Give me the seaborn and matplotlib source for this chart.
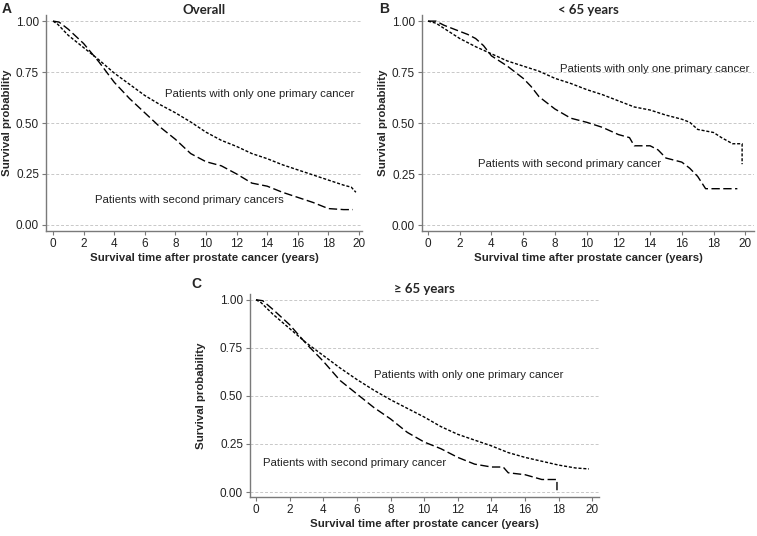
import matplotlib
matplotlib.use("Agg")
import matplotlib.pyplot as plt
import seaborn as sns
import pandas as pd

sns.set_theme(style="white")
plt.rcParams['font.family'] = ['Liberation Sans', 'DejaVu Sans']

# survival curves (years, probability)
a_one_t = [0, 0.3, 1, 2, 3, 4, 5, 6, 7, 8, 9, 10, 11, 12, 13, 14, 15, 16, 17, 18, 19, 19.5, 19.8]
a_one_s = [1.0, 0.985, 0.93, 0.87, 0.81, 0.745, 0.69, 0.635, 0.59, 0.55, 0.505, 0.455, 0.415, 0.385, 0.35, 0.325, 0.295, 0.27, 0.245, 0.22, 0.195, 0.185, 0.16]
a_sec_t = [0, 0.4, 1, 2, 3, 4, 5, 6, 7, 8, 9, 10, 11, 12, 13, 14, 15, 16, 17, 18, 19, 19.6]
a_sec_s = [1.0, 0.995, 0.96, 0.89, 0.80, 0.70, 0.62, 0.55, 0.48, 0.42, 0.35, 0.31, 0.29, 0.25, 0.205, 0.19, 0.16, 0.135, 0.11, 0.08, 0.075, 0.075]

b_one_t = [0, 0.5, 1, 2, 3, 4, 5, 6, 7, 8, 9, 10, 11, 12, 13, 14, 15, 16, 16.5, 17, 18, 18.5, 19.2, 19.8, 19.8]
b_one_s = [1.0, 0.99, 0.965, 0.915, 0.875, 0.84, 0.805, 0.78, 0.755, 0.72, 0.695, 0.665, 0.64, 0.61, 0.58, 0.565, 0.54, 0.52, 0.505, 0.47, 0.455, 0.43, 0.40, 0.40, 0.30]
b_sec_t = [0, 0.5, 1, 2, 2.5, 3, 3.5, 4, 5, 6, 6.5, 7, 8, 9, 10, 11, 12, 12.7, 13, 14, 14.5, 15, 16, 16.5, 17, 17.5, 19.5]
b_sec_s = [1.0, 1.0, 0.98, 0.95, 0.935, 0.915, 0.88, 0.83, 0.78, 0.72, 0.68, 0.63, 0.57, 0.525, 0.505, 0.48, 0.445, 0.43, 0.39, 0.39, 0.37, 0.33, 0.31, 0.28, 0.24, 0.18, 0.18]

c_one_t = [0, 0.3, 1, 2, 3, 4, 5, 6, 7, 8, 9, 10, 11, 12, 13, 14, 15, 16, 17, 18, 19, 19.8]
c_one_s = [1.0, 0.985, 0.925, 0.85, 0.775, 0.71, 0.645, 0.585, 0.53, 0.48, 0.435, 0.39, 0.34, 0.30, 0.27, 0.24, 0.205, 0.18, 0.16, 0.14, 0.125, 0.12]
c_sec_t = [0, 0.4, 1, 2, 3, 4, 5, 6, 7, 8, 9, 10, 11, 12, 13, 14, 14.7, 15, 16, 17, 17.9, 17.9]
c_sec_s = [1.0, 0.995, 0.95, 0.87, 0.77, 0.68, 0.58, 0.51, 0.44, 0.38, 0.31, 0.26, 0.225, 0.18, 0.145, 0.13, 0.13, 0.10, 0.09, 0.065, 0.065, 0.0]

panels = [
    ("A", "Overall", a_one_t, a_one_s, a_sec_t, a_sec_s,
     "Patients with second primary cancers"),
    ("B", "< 65 years", b_one_t, b_one_s, b_sec_t, b_sec_s,
     "Patients with second primary cancer"),
    ("C", "\u2265 65 years", c_one_t, c_one_s, c_sec_t, c_sec_s,
     "Patients with second primary cancer"),
]

W, H = 757, 536
# axes boxes in pixels: left, top, right, bottom
boxes = [(46, 15, 362, 231), (422, 15, 754, 231), (250, 294, 599, 497)]
xlims = [(-0.46, 20.2), (-0.38, 20.55), (-0.36, 20.4)]
ylims = [(-0.03, 1.03), (-0.027, 1.03), (-0.026, 1.03)]
one_lbl_xy = [(7.35, 0.64), (8.3, 0.765), (7.0, 0.61)]
sec_lbl_xy = [(2.75, 0.12), (3.15, 0.30), (0.4, 0.15)]
ylabel_pads = [3, 3, 10]

fig = plt.figure(figsize=(W / 100, H / 100), dpi=100)

for i, (letter, title, t1, s1, t2, s2, sec_label) in enumerate(panels):
    l, t, r, b = boxes[i]
    ax = fig.add_axes([l / W, (H - b) / H, (r - l) / W, (b - t) / H])

    df = pd.concat([
        pd.DataFrame({"time": t1, "surv": s1, "group": "one"}),
        pd.DataFrame({"time": t2, "surv": s2, "group": "second"}),
    ])
    sns.lineplot(data=df, x="time", y="surv", style="group",
                 dashes={"one": (2.2, 1.3), "second": (6, 2.5)},
                 color="black", linewidth=1.0, sort=False, estimator=None,
                 legend=False, ax=ax)

    ax.set_xlim(*xlims[i])
    ax.set_ylim(*ylims[i])
    ax.set_xticks(range(0, 21, 2))
    ax.set_yticks([0, 0.25, 0.5, 0.75, 1.0])
    ax.set_yticklabels(["0.00", "0.25", "0.50", "0.75", "1.00"])
    ax.yaxis.grid(True, linestyle=(0, (3, 2)), color="#c8c8c8", linewidth=0.7)
    ax.xaxis.grid(False)
    ax.set_axisbelow(True)
    for side in ["top", "right"]:
        ax.spines[side].set_visible(False)
    for side in ["left", "bottom"]:
        ax.spines[side].set_color("#7a7a7a")
        ax.spines[side].set_linewidth(1.0)
    ax.tick_params(axis="both", which="both", direction="out", length=3, width=0.8,
                   color="#7a7a7a", labelsize=8.5, pad=2, labelcolor="#222222")
    ax.tick_params(bottom=True, left=True)

    ax.set_xlabel("Survival time after prostate cancer (years)", fontsize=8.2,
                  fontweight="bold", labelpad=2)
    ax.set_ylabel("Survival probability", fontsize=8.2, fontweight="bold",
                  labelpad=ylabel_pads[i])
    ax.set_title(title, fontsize=9.5, fontweight="bold", family=["Lato", "DejaVu Sans"], pad=1)

    ax.text(*one_lbl_xy[i], "Patients with only one primary cancer", fontsize=8.2,
            color="#222222", ha="left", va="center")
    ax.text(*sec_lbl_xy[i], sec_label, fontsize=8.2, color="#222222",
            ha="left", va="center")

# panel letters
fig.text(2 / W, 1 - 9 / H, "A", fontsize=10, fontweight="bold", va="center")
fig.text(379 / W, 1 - 9 / H, "B", fontsize=10, fontweight="bold", va="center")
fig.text(191 / W, 1 - 284 / H, "C", fontsize=10, fontweight="bold", va="center")

fig.savefig("out.png", dpi=100)
